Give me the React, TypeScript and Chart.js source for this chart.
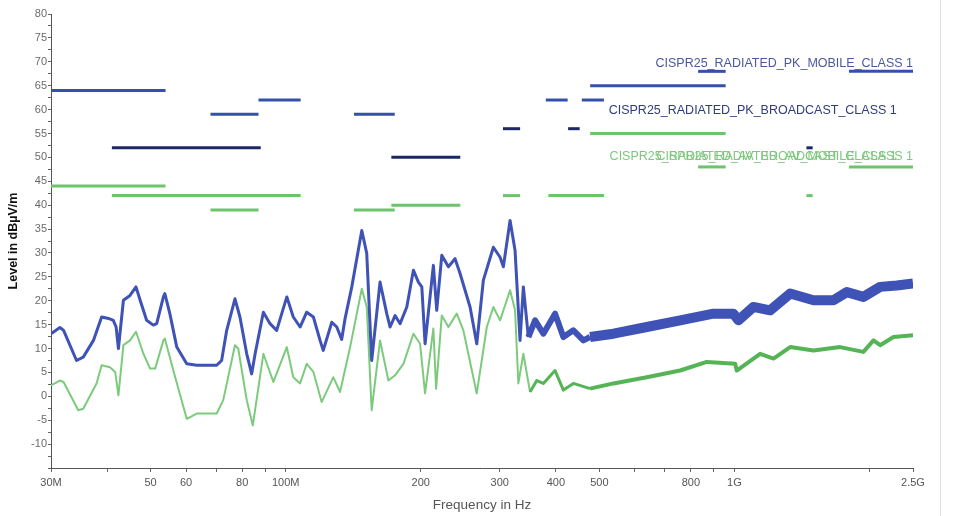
import React, { useEffect, useRef } from "react";
import { Chart, registerables } from "chart.js";

Chart.register(...registerables);

// Peak (blue) measurement trace: frequency in MHz, level in dBµV/m
const peakFreqMHz = [
  30, 31.4, 32.0, 34.2, 35.4, 37.3, 38.9, 40.3, 41.3, 41.9, 42.4, 43.5, 45.0, 46.4, 47.4, 49.0, 50.7, 51.6,
  53.4, 53.8, 55.2, 57.2, 60.2, 63.4, 70.2, 72.0, 73.9, 77.1, 79.1, 81.9, 84.0, 85.5, 89.2, 92.3, 95.5,
  100.6, 104.0, 107.7, 111.4, 115.3, 119.3, 121.3, 126.7, 130.0, 133.3, 135.6, 140.4, 147.8, 151.6, 155.5,
  162.3, 168.0, 170.9, 175.3, 179.9, 186.2, 192.6, 197.6, 201.1, 204.5, 213.4, 217.1, 222.8, 230.5, 238.5,
  244.7, 257.6, 266.6, 275.8, 290.3, 300.5, 305.6, 316.3, 324.5, 332.9, 338.6, 347.4, 359.6, 375.2, 398.4,
  415.8, 437.7, 460.7, 476.8, 537.5, 638.1, 756.8, 897.7, 995, 1021, 1102, 1201, 1331, 1500, 1662, 1780,
  1938, 2112, 2301, 2500,
];
const peakLevel = [
  13.1, 14.4, 13.8, 7.5, 8.2, 11.7, 16.6, 16.3, 15.9, 14.5, 10.0, 20.1, 21.1, 22.9, 20.1, 15.9, 14.9, 15.2,
  20.8, 21.5, 17.3, 10.3, 6.8, 6.5, 6.5, 7.5, 13.8, 20.4, 16.6, 8.9, 4.7, 8.9, 17.6, 15.2, 13.8,
  20.8, 16.6, 14.5, 17.6, 16.6, 11.7, 9.6, 15.5, 14.5, 11.9, 16.2, 22.9, 34.7, 29.9, 7.5,
  23.9, 17.3, 14.5, 16.9, 15.2, 18.7, 26.4, 23.9, 22.9, 11.0, 27.4, 18.0, 29.5, 27.1, 28.8,
  25.7, 18.7, 11.0, 24.3, 31.2, 29.1, 27.1, 36.8, 30.5, 11.7, 22.9, 12.4, 15.9, 13.1, 17.3,
  12.4, 13.8, 11.7, 12.4, 13.1, 14.5, 15.9, 17.3, 17.3, 15.9, 18.7, 18.0, 21.5, 20.1, 20.1, 21.8,
  20.8, 22.9, 23.2, 23.6,
];

// Average (green) measurement trace
const avgFreqMHz = [
  30, 31.4, 32.0, 34.5, 35.4, 37.9, 38.9, 40.6, 41.7, 42.4, 43.5, 45.0, 46.4, 48.2, 49.9, 51.2, 53.4, 53.8,
  56.2, 60.2, 63.4, 70.2, 72.6, 77.1, 78.4, 81.9, 84.5, 89.2, 93.9, 100.6, 104.0, 107.7, 111.4, 115.3,
  120.3, 127.7, 132.2, 139.2, 147.8, 151.6, 155.5, 162.3, 169.4, 175.3, 183.0, 192.6, 199.3, 204.5, 213.4,
  216.4, 222.8, 230.5, 240.6, 248.9, 266.6, 280.7, 290.3, 300.5, 316.3, 324.5, 330.0, 338.6, 350.4, 362.7,
  375.2, 398.4, 415.8, 437.7, 476.8, 537.5, 638.1, 756.8, 867.8, 1004, 1012, 1141, 1222, 1331, 1500, 1720,
  1938, 2041, 2112, 2262, 2500,
];
const avgLevel = [
  2.3, 3.3, 3.0, -2.9, -2.6, 2.7, 6.5, 6.1, 5.1, 0.2, 10.7, 11.7, 13.5, 8.9, 5.8, 5.8, 11.7, 12.1,
  5.4, -4.7, -3.6, -3.6, -0.8, 10.7, 10.0, -0.8, -6.1, 8.9, 3.0, 10.3, 4.0, 2.7, 6.8, 5.1,
  -1.2, 4.0, 0.9, 10.3, 22.5, 18.7, -2.9, 11.7, 3.3, 4.4, 6.8, 13.1, 11.0, 0.6, 14.2,
  1.6, 16.9, 14.5, 17.3, 13.8, 0.6, 14.5, 18.7, 15.9, 22.2, 18.0, 2.7, 8.9, 0.9, 3.3,
  2.7, 5.4, 1.3, 2.7, 1.6, 2.7, 4.0, 5.4, 7.2, 6.8, 5.4, 8.9, 7.9, 10.3, 9.6, 10.3,
  9.3, 11.7, 10.7, 12.4, 12.8,
];

// Limit lines (MHz start / end, dBµV/m)
const pkMobileStart = [30, 68, 87, 142, 380, 457, 477, 830, 1800];
const pkMobileEnd = [54, 87, 108, 175, 425, 512, 956, 956, 2500];
const pkMobileLevel = [64, 59, 62, 59, 62, 62, 65, 68, 68];

const pkBroadcastStart = [41, 172, 305, 426, 1447];
const pkBroadcastEnd = [88, 245, 333, 452, 1494];
const pkBroadcastLevel = [52, 50, 56, 56, 52];

const avStart = [30, 41, 87, 68, 142, 172, 305, 385, 477, 830, 1800, 1447];
const avEnd = [54, 88, 108, 87, 175, 245, 333, 512, 956, 956, 2500, 1494];
const avLevel = [44, 42, 42, 39, 39, 40, 42, 42, 55, 48, 48, 42];

// Limit labels
const limitLabels = [
  "CISPR25_RADIATED_PK_MOBILE_CLASS 1",
  "CISPR25_RADIATED_PK_BROADCAST_CLASS 1",
  "CISPR25_RADIATED_AV_BROADCAST_CLASS 1",
  "CISPR25_RADIATED_AV_MOBILE_CLASS 1",
];
const limitLabelFreq = [2500, 2300, 2300, 2500];
const limitLabelLevel = [69.7, 59.8, 50.2, 50.2];
const limitLabelColor = ["#4a58a0", "#313d7a", "#7cc87c", "#7cc87c"];

// Axis ticks
const xTickValues = [30, 40, 50, 60, 70, 80, 90, 100, 200, 300, 400, 500, 600, 700, 800, 900, 1000, 2000, 2500];
const xTickLabels = ["30M", "", "50", "60", "", "80", "", "100M", "200", "300", "400", "500", "", "", "800", "", "1G", "", "2.5G"];

const MOBILE_COLOR = "#3450a8";
const BROADCAST_COLOR = "#1c2866";
const AV_COLOR = "#6cc46c";
const FONT = "'Liberation Sans', Arial, sans-serif";

const overlayPlugin = {
  id: "overlayLabels",
  afterDatasetsDraw(chart: any) {
    const { ctx, scales } = chart;
    const xs = scales.x;
    const ys = scales.y;
    ctx.save();
    ctx.font = `12.5px ${FONT}`;
    ctx.textAlign = "right";
    ctx.textBaseline = "middle";
    limitLabels.forEach((t, i) => {
      ctx.fillStyle = limitLabelColor[i];
      ctx.fillText(t, xs.getPixelForValue(limitLabelFreq[i]), ys.getPixelForValue(limitLabelLevel[i]));
    });
    ctx.restore();
  },
  afterDraw(chart: any) {
    const { ctx } = chart;
    ctx.save();
    ctx.strokeStyle = "#e2e2e2";
    ctx.lineWidth = 1;
    ctx.beginPath();
    ctx.moveTo(940.5, 0);
    ctx.lineTo(940.5, chart.height);
    ctx.stroke();
    ctx.restore();
  },
};

function segDatasets(starts: number[], ends: number[], levels: number[], color: string) {
  return starts.map((s, i) => ({
    label: "limit",
    data: [
      { x: s, y: levels[i] },
      { x: ends[i], y: levels[i] },
    ],
    borderColor: color,
    backgroundColor: color,
    borderWidth: 3,
    pointRadius: 0,
    fill: false,
  }));
}

export default function App() {
  const canvasRef = useRef<HTMLCanvasElement | null>(null);

  useEffect(() => {
    document.body.style.margin = "0";
    const canvas = canvasRef.current;
    if (!canvas) return;

    const peakData = peakFreqMHz.map((f, i) => ({ x: f, y: peakLevel[i] }));
    const avgData = avgFreqMHz.map((f, i) => ({ x: f, y: avgLevel[i] }));

    const chart = new Chart(canvas, {
      type: "line",
      data: {
        datasets: [
          {
            label: "Peak",
            data: peakData,
            borderColor: "#3f52b6",
            borderWidth: 3,
            borderJoinStyle: "round",
            pointRadius: 0,
            fill: false,
            segment: {
              borderWidth: (c: any) => {
                const f = c.p0.parsed.x;
                return f >= 476 ? 10 : f >= 340 ? 6 : 3;
              },
            },
          } as any,
          {
            label: "Average",
            data: avgData,
            borderColor: "#78c878",
            borderWidth: 2,
            borderJoinStyle: "round",
            pointRadius: 0,
            fill: false,
            segment: {
              borderWidth: (c: any) => (c.p0.parsed.x >= 476 ? 4 : c.p0.parsed.x >= 340 ? 3 : 2),
              borderColor: (c: any) => (c.p0.parsed.x >= 340 ? "#55b455" : "#7ccb7c"),
            },
          } as any,
          ...segDatasets(pkMobileStart, pkMobileEnd, pkMobileLevel, MOBILE_COLOR),
          ...segDatasets(pkBroadcastStart, pkBroadcastEnd, pkBroadcastLevel, BROADCAST_COLOR),
          ...segDatasets(avStart, avEnd, avLevel, AV_COLOR),
        ],
      },
      options: {
        responsive: false,
        animation: false,
        parsing: true,
        layout: { padding: { top: 14, right: 42, left: 0, bottom: 0 } },
        plugins: {
          legend: { display: false },
          tooltip: { enabled: false },
        },
        elements: { line: { tension: 0 } },
        scales: {
          x: {
            type: "logarithmic",
            min: 30,
            max: 2500,
            afterBuildTicks: (scale: any) => {
              scale.ticks = xTickValues.map((v) => ({ value: v }));
            },
            afterFit: (scale: any) => {
              scale.height = 48;
            },
            grid: { drawOnChartArea: false, drawTicks: true, tickLength: 4, color: "#666" },
            border: { display: true, color: "#555", width: 1 },
            ticks: {
              autoSkip: false,
              maxRotation: 0,
              padding: 4,
              color: "#555",
              font: { family: FONT, size: 11 },
              callback: (value: any) => {
                const idx = xTickValues.indexOf(Number(value));
                return idx >= 0 ? xTickLabels[idx] : "";
              },
            },
            title: {
              display: true,
              text: "Frequency in Hz",
              color: "#555",
              font: { family: FONT, size: 13.5 },
              padding: { top: 2, bottom: 3 },
            },
          },
          y: {
            type: "linear",
            min: -15,
            max: 80,
            afterFit: (scale: any) => {
              scale.width = 51;
            },
            grid: { drawOnChartArea: false, drawTicks: true, tickLength: 3, color: "#666" },
            border: { display: true, color: "#555", width: 1 },
            ticks: {
              stepSize: 2.5,
              autoSkip: false,
              padding: 1,
              color: "#6a6a6a",
              font: { family: FONT, size: 11 },
              callback: (value: any) => {
                const v = Number(value);
                return v % 5 === 0 && v > -15 ? String(v) : "";
              },
            },
            title: {
              display: true,
              text: "Level in dBµV/m",
              color: "#111",
              font: { family: FONT, size: 12.5, weight: "bold" },
              padding: { top: 6, bottom: 0 },
            },
          },
        },
      } as any,
      plugins: [overlayPlugin],
    });

    return () => {
      chart.destroy();
    };
  }, []);

  return (
    <div style={{ position: "absolute", left: 0, top: 0, width: 955, height: 516, background: "#fff" }}>
      <canvas ref={canvasRef} width={955} height={516} />
    </div>
  );
}
